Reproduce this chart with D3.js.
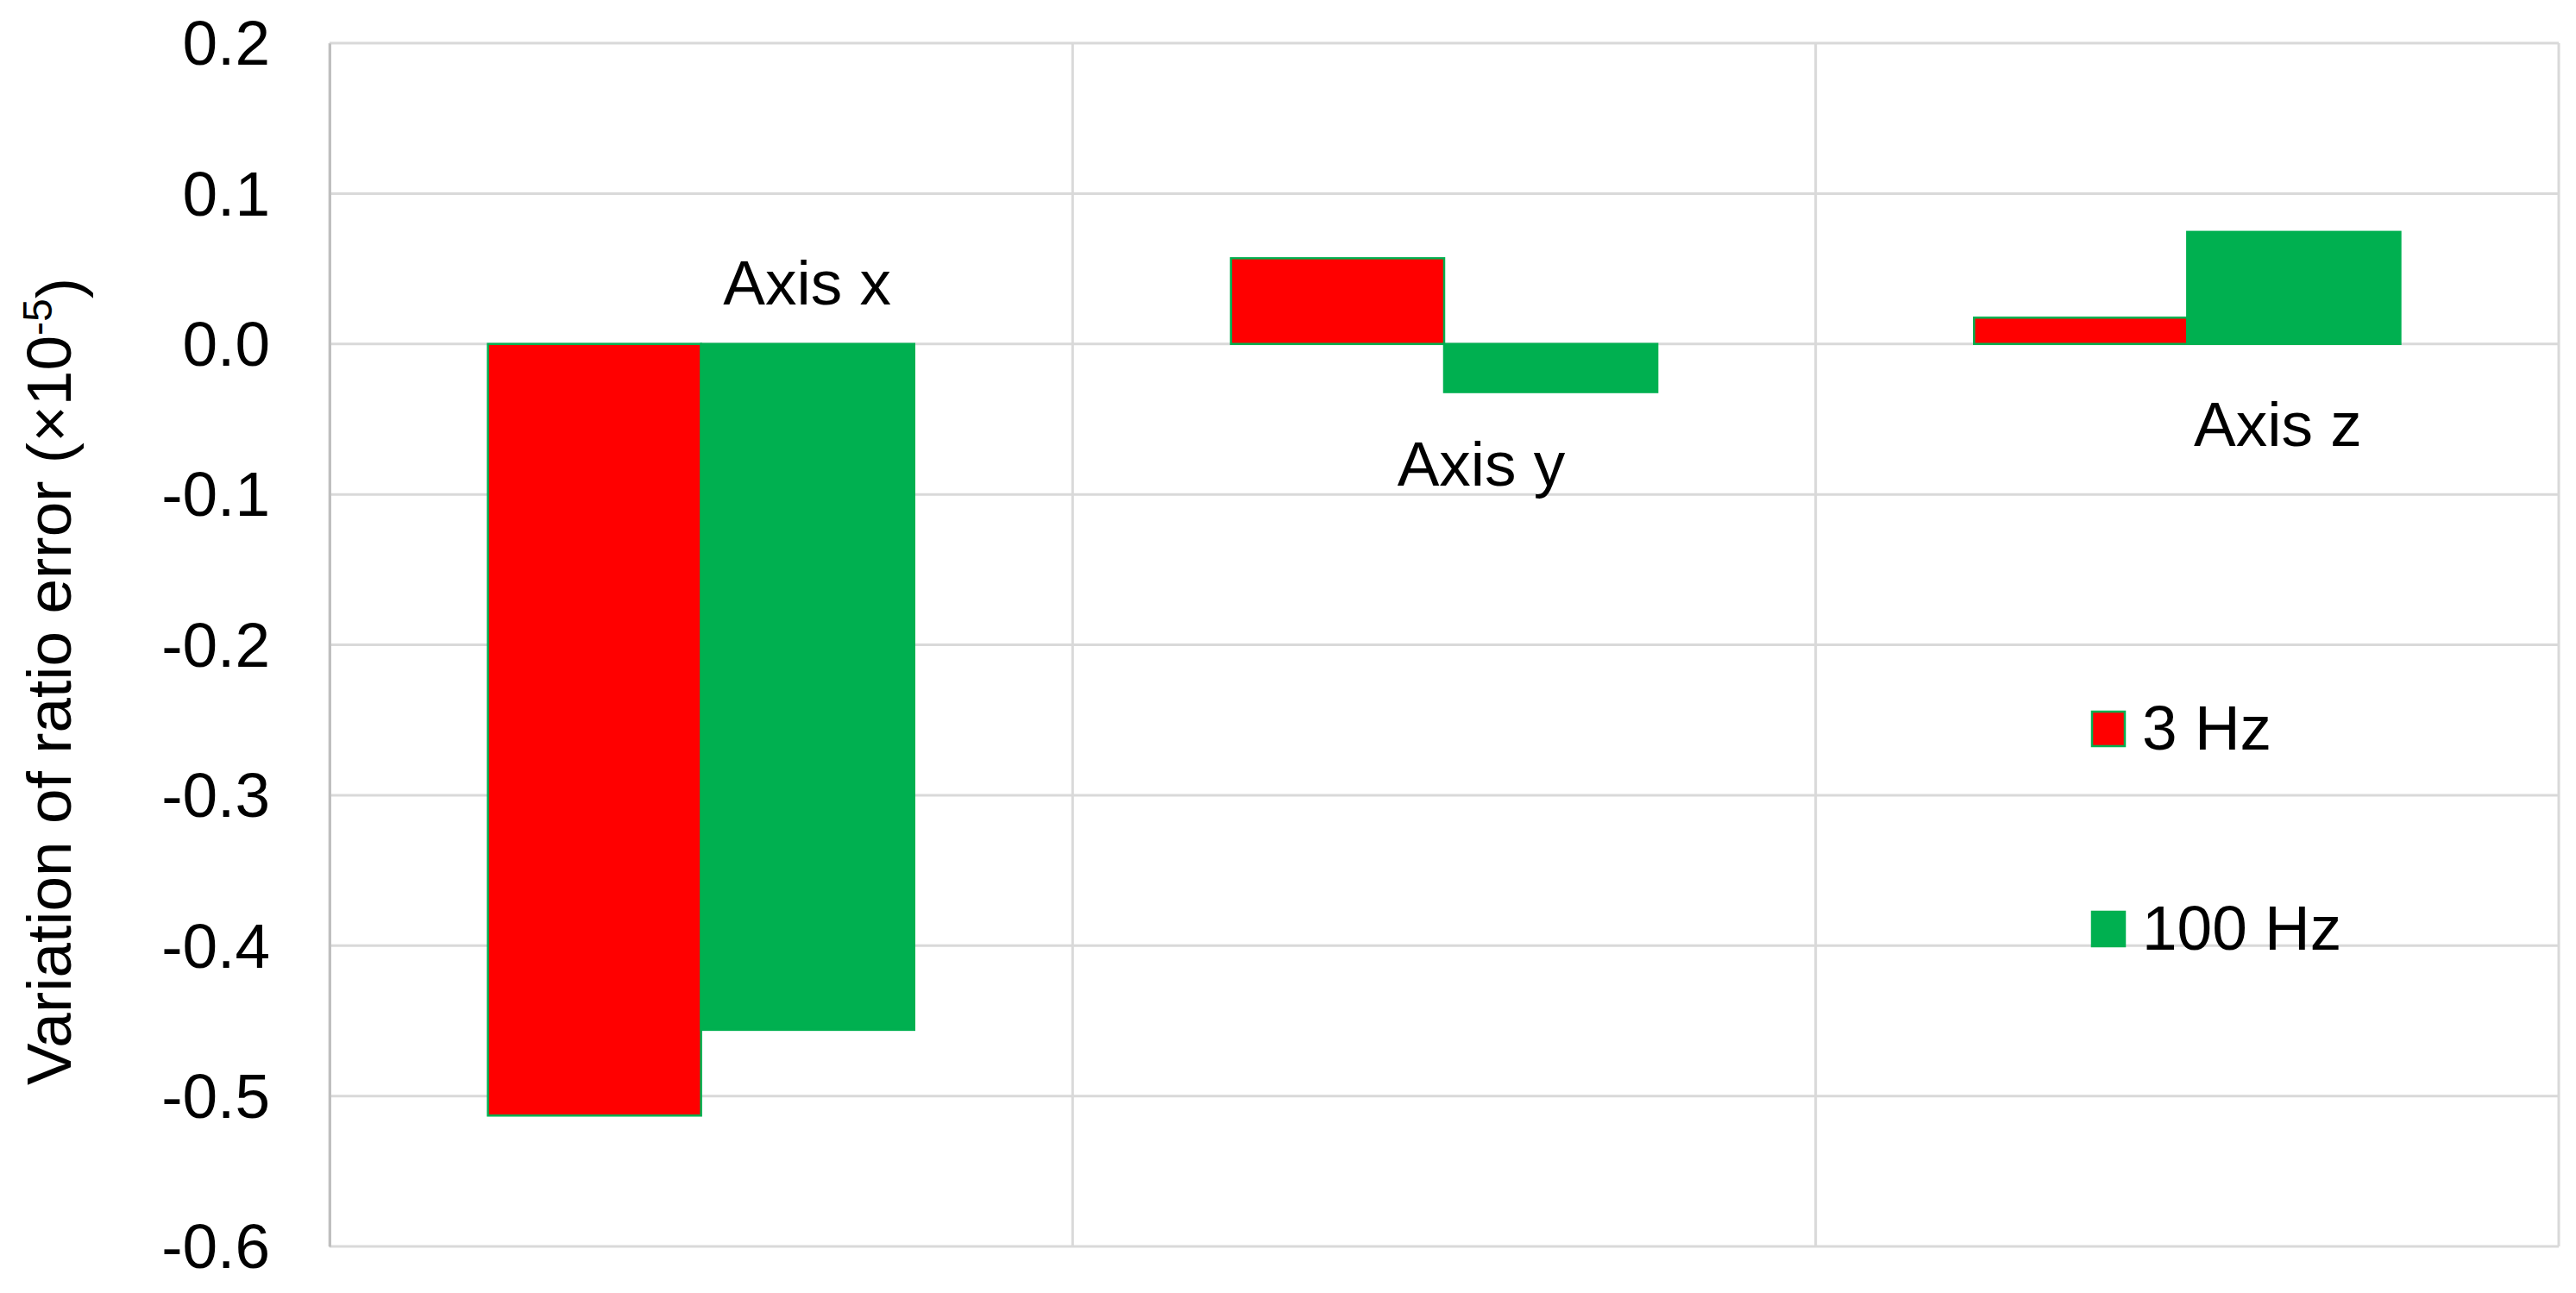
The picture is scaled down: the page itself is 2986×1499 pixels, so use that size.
<!DOCTYPE html>
<html>
<head>
<meta charset="utf-8">
<script src="https://cdn.jsdelivr.net/npm/d3@7"></script>
<style>
  html, body { margin: 0; padding: 0; background: #fff; }
  text { font-family: "Liberation Sans", Arial, sans-serif; fill: #000; }
</style>
</head>
<body>
<svg id="chart" width="2986" height="1499"></svg>
<script>
// ---- data ----
const categories = ["Axis x", "Axis y", "Axis z"];
const seriesNames = ["3 Hz", "100 Hz"];
const values3Hz = [-0.513, 0.057, 0.0175];
const values100Hz = [-0.456, -0.032, 0.0745];
const yTicks = [0.2, 0.1, 0.0, -0.1, -0.2, -0.3, -0.4, -0.5, -0.6];
// category label placement (offset from category centre, in px; y in data units)
const labelDx = [123, 43, 105];
const labelY = [0.0265, -0.0944, -0.068];

const seriesValues = [values3Hz, values100Hz];
const fills = ["#FF0000", "#00B050"];
const strokeCol = "#00B050";

const svg = d3.select("#chart");
const plotL = 382, plotR = 2966, plotT = 50, plotB = 1445;

const y = d3.scaleLinear().domain([-0.6, 0.2]).range([plotB, plotT]);
const x0 = d3.scaleBand().domain(categories).range([plotL, plotR]).padding(0);
const x1 = d3.scaleBand().domain(seriesNames).range([0, x0.bandwidth()])
  .paddingInner(0).paddingOuter(0.743);

const grid = svg.append("g");
grid.selectAll("line.h").data(yTicks).join("line")
  .attr("x1", plotL).attr("x2", plotR)
  .attr("y1", d => y(d)).attr("y2", d => y(d))
  .attr("stroke", "#d9d9d9").attr("stroke-width", 3);
const bounds = categories.map(c => x0(c)).concat([plotR]);
grid.selectAll("line.v").data(bounds).join("line")
  .attr("x1", d => d).attr("x2", d => d)
  .attr("y1", plotT).attr("y2", plotB)
  .attr("stroke", "#d9d9d9").attr("stroke-width", 3);

const yAxis = d3.axisLeft(y).tickValues(yTicks).tickSize(0).tickPadding(69)
  .tickFormat(d => (Math.abs(d) < 1e-9 ? 0 : d).toFixed(1));
const ya = svg.append("g").attr("transform", `translate(${plotL},0)`).call(yAxis);
ya.select(".domain").attr("stroke", "#bfbfbf").attr("stroke-width", 3);
ya.selectAll("text").style("font-family", '"Liberation Sans", Arial, sans-serif')
  .style("font-size", "73px").attr("fill", "#000").attr("dy", "0.34em");

const barsG = svg.append("g");
seriesNames.forEach((s, si) => {
  barsG.selectAll(null).data(categories).join("rect")
    .attr("x", c => x0(c) + x1(s))
    .attr("width", x1.bandwidth())
    .attr("y", (c, i) => y(Math.max(0, seriesValues[si][i])))
    .attr("height", (c, i) => Math.abs(y(seriesValues[si][i]) - y(0)))
    .attr("fill", fills[si])
    .attr("stroke", strokeCol).attr("stroke-width", 2.5);
});

svg.append("g").selectAll("text").data(categories).join("text")
  .attr("x", (c, i) => x0(c) + x0.bandwidth() / 2 + labelDx[i])
  .attr("y", (c, i) => y(labelY[i]))
  .attr("text-anchor", "middle")
  .style("font-size", "73px")
  .text(c => c);

const legendX = 2425, legendY = [845, 1077];
const lg = svg.append("g");
seriesNames.forEach((s, i) => {
  lg.append("rect").attr("x", legendX).attr("y", legendY[i] - 20)
    .attr("width", 38).attr("height", 40)
    .attr("fill", fills[i]).attr("stroke", strokeCol).attr("stroke-width", 2.5);
  lg.append("text").attr("x", legendX + 58).attr("y", legendY[i] + 24)
    .style("font-size", "73px").text(s);
});

const title = svg.append("text")
  .attr("transform", "translate(82,790) rotate(-90)")
  .attr("text-anchor", "middle")
  .style("font-size", "73px");
title.append("tspan").text("Variation of ratio error (×10");
title.append("tspan").attr("dy", "-0.45em").style("font-size", "48px").text("-5");
title.append("tspan").attr("dy", "0.45em").text(")");
</script>
</body>
</html>
